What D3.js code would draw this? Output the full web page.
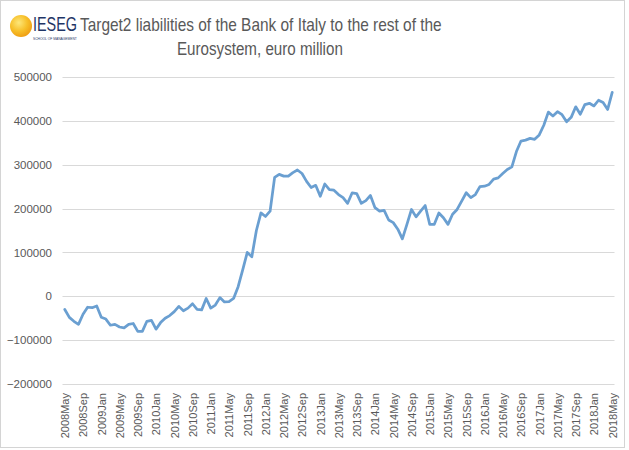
<!DOCTYPE html>
<html>
<head>
<meta charset="utf-8">
<script src="https://cdn.jsdelivr.net/npm/d3@7"></script>
<style>
  body { margin: 0; background: #fff; }
  svg { display: block; }
</style>
</head>
<body>
<script>
//size of the picture
var width = 629;
var height = 450;

//months on the category axis
var months = [
  "2008May","2008Jun","2008Jul","2008Aug","2008Sep","2008Oct","2008Nov","2008Dec",
  "2009Jan","2009Feb","2009Mar","2009Apr","2009May","2009Jun","2009Jul","2009Aug","2009Sep","2009Oct","2009Nov","2009Dec",
  "2010Jan","2010Feb","2010Mar","2010Apr","2010May","2010Jun","2010Jul","2010Aug","2010Sep","2010Oct","2010Nov","2010Dec",
  "2011Jan","2011Feb","2011Mar","2011Apr","2011May","2011Jun","2011Jul","2011Aug","2011Sep","2011Oct","2011Nov","2011Dec",
  "2012Jan","2012Feb","2012Mar","2012Apr","2012May","2012Jun","2012Jul","2012Aug","2012Sep","2012Oct","2012Nov","2012Dec",
  "2013Jan","2013Feb","2013Mar","2013Apr","2013May","2013Jun","2013Jul","2013Aug","2013Sep","2013Oct","2013Nov","2013Dec",
  "2014Jan","2014Feb","2014Mar","2014Apr","2014May","2014Jun","2014Jul","2014Aug","2014Sep","2014Oct","2014Nov","2014Dec",
  "2015Jan","2015Feb","2015Mar","2015Apr","2015May","2015Jun","2015Jul","2015Aug","2015Sep","2015Oct","2015Nov","2015Dec",
  "2016Jan","2016Feb","2016Mar","2016Apr","2016May","2016Jun","2016Jul","2016Aug","2016Sep","2016Oct","2016Nov","2016Dec",
  "2017Jan","2017Feb","2017Mar","2017Apr","2017May","2017Jun","2017Jul","2017Aug","2017Sep","2017Oct","2017Nov","2017Dec",
  "2018Jan","2018Feb","2018Mar","2018Apr","2018May"
];

//target2 balance, euro million
var liabilities = [
  -30000, -48000, -57000, -64000, -41000, -25000, -26000, -22000,
  -48000, -52000, -66000, -64000, -70000, -72000, -64000, -62000, -80000, -80000, -57000, -55000,
  -75000, -60000, -50000, -44000, -35000, -23000, -33000, -27000, -17000, -30000, -31000, -5000,
  -27000, -20000, -3000, -13000, -12000, -5000, 22000, 60000, 100000, 90000, 150000, 190000,
  182000, 194000, 271000, 278000, 274000, 274000, 282000, 288000, 280000, 262000, 248000, 253000,
  228000, 256000, 243000, 242000, 232000, 225000, 212000, 236000, 234000, 212000, 218000, 230000,
  202000, 194000, 196000, 174000, 168000, 153000, 131000, 164000, 198000, 181000, 194000, 207000,
  164000, 164000, 190000, 179000, 164000, 187000, 198000, 217000, 236000, 225000, 232000, 250000,
  251000, 255000, 267000, 270000, 280000, 289000, 295000, 330000, 354000, 356000, 360000, 358000,
  368000, 390000, 420000, 411000, 421000, 414000, 398000, 408000, 432000, 415000, 437000, 440000,
  434000, 447000, 442000, 426000, 465000
];

//labels shown on the x axis (every fourth month)
var tickLabels = [
  "2008May","2008Sep","2009Jan","2009May","2009Sep","2010Jan","2010May","2010Sep",
  "2011Jan","2011May","2011Sep","2012Jan","2012May","2012Sep","2013Jan","2013May",
  "2013Sep","2014Jan","2014May","2014Sep","2015Jan","2015May","2015Sep","2016Jan",
  "2016May","2016Sep","2017Jan","2017May","2017Sep","2018Jan","2018May"
];

//y axis values
var yTicks = [-200000, -100000, 0, 100000, 200000, 300000, 400000, 500000];

var titleLines = ["Target2 liabilities of the Bank of Italy to the rest of the", "Eurosystem, euro million"];

//colours
var line_colour = "#6a9fd1";
var grid_colour = "#d9d9d9";
var text_colour = "#595959";
var font = "'Liberation Sans', Arial, sans-serif";

var svg = d3.select("body").append("svg")
    .attr("width", width)
    .attr("height", height);

//outer frame
svg.append("rect")
    .attr("x", 0.5).attr("y", 0.5)
    .attr("width", 624).attr("height", 447)
    .attr("fill", "#fff")
    .attr("stroke", "#d4d4d4");

//scales
var x = d3.scalePoint()
    .domain(months)
    .range([62.5, 614.5])
    .padding(0.5);

var y = d3.scaleLinear()
    .domain([-200000, 500000])
    .range([384, 77]);

//gridlines
svg.append("g").selectAll("line")
    .data(yTicks)
    .enter()
    .append("line")
    .attr("x1", 62.5)
    .attr("x2", 614.5)
    .attr("y1", function (d) { return Math.round(y(d)) + 0.5 })
    .attr("y2", function (d) { return Math.round(y(d)) + 0.5 })
    .attr("stroke", grid_colour)
    .attr("stroke-width", 1);

//y axis labels, drawn with d3.axisLeft without the domain and ticks
var yAxis = svg.append("g")
    .attr("transform", "translate(58,0)")
    .call(d3.axisLeft(y).tickValues(yTicks).tickSize(0).tickPadding(6).tickFormat(d3.format("d")));
yAxis.select(".domain").remove();
yAxis.selectAll("text")
    .attr("fill", text_colour)
    .style("font-family", font)
    .style("font-size", "11.5px");

//x axis labels, rotated
var xAxis = svg.append("g")
    .attr("transform", "translate(0,388)")
    .call(d3.axisBottom(x).tickValues(tickLabels).tickSize(0).tickPadding(0));
xAxis.select(".domain").remove();
xAxis.selectAll("text")
    .attr("fill", text_colour)
    .style("font-family", font)
    .style("font-size", "11px")
    .attr("text-anchor", "end")
    .attr("dy", "0.35em")
    .attr("transform", "translate(0,5) rotate(-90)")
    .attr("x", 0)
    .attr("y", 0);

//the line
var line = d3.line()
    .x(function (d, i) { return x(months[i]) })
    .y(function (d) { return y(d) })
    .curve(d3.curveLinear);

svg.append("path")
    .datum(liabilities)
    .attr("d", line)
    .attr("fill", "none")
    .attr("stroke", line_colour)
    .attr("stroke-width", 2.75)
    .attr("stroke-linejoin", "round")
    .attr("stroke-linecap", "round");

//squeezes a text horizontally so it fits a given width (Calibri is narrower than what we have)
function squeezeText(sel, left, baseline, targetWidth) {
    var natural = sel.node().getComputedTextLength();
    var sx = Math.min(1, targetWidth / natural);
    sel.attr("x", 0).attr("y", 0)
        .attr("text-anchor", "start")
        .attr("transform", "translate(" + left + "," + baseline + ") scale(" + sx + ",1)");
}

//title
var title1 = svg.append("text")
    .attr("fill", text_colour)
    .style("font-family", font)
    .style("font-size", "18px")
    .text(titleLines[0]);
squeezeText(title1, 80, 31, 362);

var title2 = svg.append("text")
    .attr("fill", text_colour)
    .style("font-family", font)
    .style("font-size", "18px")
    .text(titleLines[1]);
squeezeText(title2, 177, 55, 166);

//logo: orange sphere + IESEG letters
var defs = svg.append("defs");
var grad = defs.append("radialGradient")
    .attr("id", "sphere")
    .attr("cx", "40%").attr("cy", "35%").attr("r", "70%");
grad.append("stop").attr("offset", "0%").attr("stop-color", "#fde77a");
grad.append("stop").attr("offset", "55%").attr("stop-color", "#f7c02a");
grad.append("stop").attr("offset", "100%").attr("stop-color", "#ee9a10");

svg.append("circle")
    .attr("cx", 21).attr("cy", 26).attr("r", 11)
    .attr("fill", "url(#sphere)");

var logo = svg.append("text")
    .attr("fill", "#1f3566")
    .style("font-family", font)
    .style("font-size", "20px")
    .text("IESEG");
squeezeText(logo, 33, 31, 44);

var logoSub = svg.append("text")
    .attr("fill", "#1f3566")
    .style("font-family", font)
    .style("font-size", "4px")
    .text("SCHOOL OF MANAGEMENT");
squeezeText(logoSub, 33, 40, 44);
</script>
</body>
</html>
